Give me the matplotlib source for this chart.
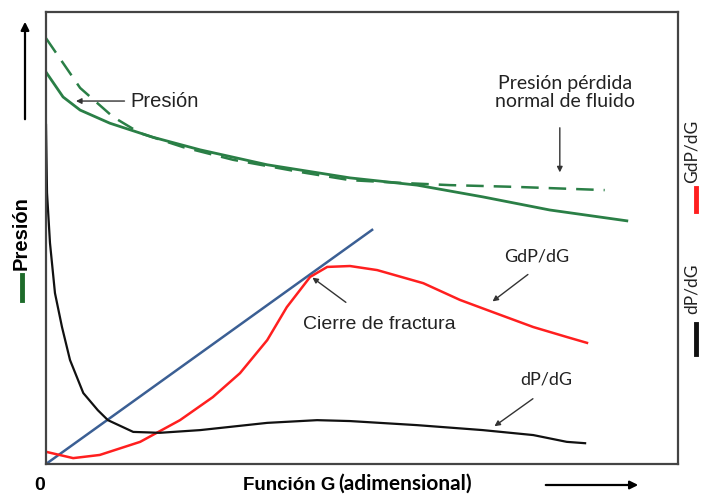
import numpy as np
import matplotlib
matplotlib.use("Agg")
import matplotlib.pyplot as plt
from matplotlib.lines import Line2D

g_dp = [0, 0.16, 0.63, 1.42, 2.53, 3.8, 5.9, 8.2, 9.8, 13.8, 18.0, 24.4,
        35.0, 42.9, 48.1, 58.7, 69.1, 77.1, 82.4, 85.3]
dp_dg = [75.0, 60.0, 48.9, 37.8, 30.3, 23.0, 15.7, 11.9, 9.7, 7.1, 6.9, 7.5,
         9.1, 9.7, 9.5, 8.6, 7.5, 6.4, 4.9, 4.6]

g_gdp = [0, 4.3, 8.5, 14.9, 21.2, 26.4, 30.7, 35.0, 38.1, 41.8, 44.5, 48.1,
         52.4, 59.7, 65.5, 70.7, 77.1, 82.4, 85.6]
gdp_dg = [2.7, 1.3, 2.0, 4.9, 9.7, 14.8, 20.1, 27.4, 34.7, 41.4, 43.6, 43.8,
          42.9, 40.0, 36.3, 33.6, 30.3, 28.1, 26.8]

g_line = [0, 51.6]
tangente = [0, 51.8]

g_p = [0, 2.7, 5.4, 10.1, 16.9, 24.4, 35.0, 48.1, 58.7, 69.1, 79.7, 91.9]
presion = [86.7, 81.2, 78.3, 75.4, 72.3, 69.5, 66.2, 63.3, 61.7, 59.1, 56.2, 53.8]

g_pn = [0, 5.4, 10.6, 14.9, 21.7, 29.6, 40.2, 48.1, 56.0, 63.9, 74.5, 88.4]
presion_normal = [94.2, 83.2, 76.8, 73.2, 70.1, 67.3, 64.6, 62.8, 62.2, 61.7,
                  61.3, 60.6]

W, H = 702, 495
fig = plt.figure(figsize=(W / 100, H / 100), dpi=100)
ax = fig.add_axes([46 / W, 1 - 464 / H, 632 / W, 452 / H])
ax.set_xlim(0, 100)
ax.set_ylim(0, 100)
ax.set_xticks([])
ax.set_yticks([])
for s in ax.spines.values():
    s.set_color("#444444")
    s.set_linewidth(1.6)

green = "#2a7f46"
ax.plot(g_pn, presion_normal, color=green, lw=1.8, ls=(0, (7, 4)))
ax.plot(g_p, presion, color=green, lw=2.0)
ax.plot(g_line, tangente, color="#3b5f94", lw=1.8)
ax.plot(g_gdp, gdp_dg, color="#ff1f1f", lw=1.8)
ax.plot(g_dp, dp_dg, color="#111111", lw=1.6)

arrow = dict(arrowstyle="-|>", color="#333333", lw=1.0, mutation_scale=8)
sans = "Liberation Sans"
cal = "Lato"

ax.annotate("Presión", xy=(4.3, 80.3), xytext=(13.3, 80.3), ha="left",
            va="center", fontsize=14.5, family=sans, color="#222222",
            arrowprops=arrow)
ax.text(82.1, 82.2, "Presión pérdida\nnormal de fluido", ha="center",
        va="center", fontsize=14, family=cal, color="#222222",
        linespacing=1.1)
ax.annotate("", xy=(81.3, 63.9), xytext=(81.3, 75.0), arrowprops=arrow)
ax.text(77.7, 45.8, "GdP/dG", ha="center", va="center", fontsize=13,
        family=cal, color="#222222")
ax.annotate("", xy=(70.3, 35.6), xytext=(76.6, 42.3), arrowprops=arrow)
ax.text(52.8, 30.8, "Cierre de fractura", ha="center", va="center",
        fontsize=14, family=sans, color="#222222")
ax.annotate("", xy=(41.8, 41.6), xytext=(47.8, 35.4), arrowprops=arrow)
ax.text(79.1, 18.6, "dP/dG", ha="center", va="center", fontsize=13,
        family=cal, color="#222222")
ax.annotate("", xy=(70.6, 8.0), xytext=(77.4, 14.8), arrowprops=arrow)


def fx(px):
    return px / W


def fy(py):
    return 1 - py / H


# textos y flechas fuera de los ejes
fig.text(fx(40), fy(490), "0", ha="center", va="baseline", fontsize=14,
         fontweight="bold", family=sans)
fig.text(fx(243), fy(490), "Función G", ha="left", va="baseline",
         fontsize=13.5, fontweight="bold", family=sans)
fig.text(fx(338), fy(490), "(adimensional)", ha="left", va="baseline",
         fontsize=15, fontweight="bold", family=cal)
fig.text(fx(21), fy(233), "Presión", ha="center", va="center", fontsize=14.5,
         fontweight="bold", family=sans, rotation=90)
fig.text(fx(692), fy(151), "GdP/dG", ha="center", va="center", fontsize=12.5,
         family=cal, rotation=90, color="#222222")
fig.text(fx(692), fy(289), "dP/dG", ha="center", va="center", fontsize=12.5,
         family=cal, rotation=90, color="#222222")

fig.add_artist(Line2D([fx(22), fx(22)], [fy(275), fy(300)], color="#1d6b2a",
                      lw=3.5))
fig.add_artist(Line2D([fx(696), fx(696)], [fy(188), fy(211)],
                      color="#ff1f1f", lw=3.5))
fig.add_artist(Line2D([fx(696), fx(696)], [fy(324), fy(354)],
                      color="#111111", lw=3.5))

big = dict(arrowstyle="-|>", color="black", lw=1.6, mutation_scale=12)
fig.add_artist(matplotlib.patches.FancyArrowPatch(
    (fx(25), fy(122)), (fx(25), fy(19)), transform=fig.transFigure, **big))
fig.add_artist(matplotlib.patches.FancyArrowPatch(
    (fx(543), fy(485)), (fx(641), fy(485)), transform=fig.transFigure, **big))

fig.savefig("out.png", dpi=100)
